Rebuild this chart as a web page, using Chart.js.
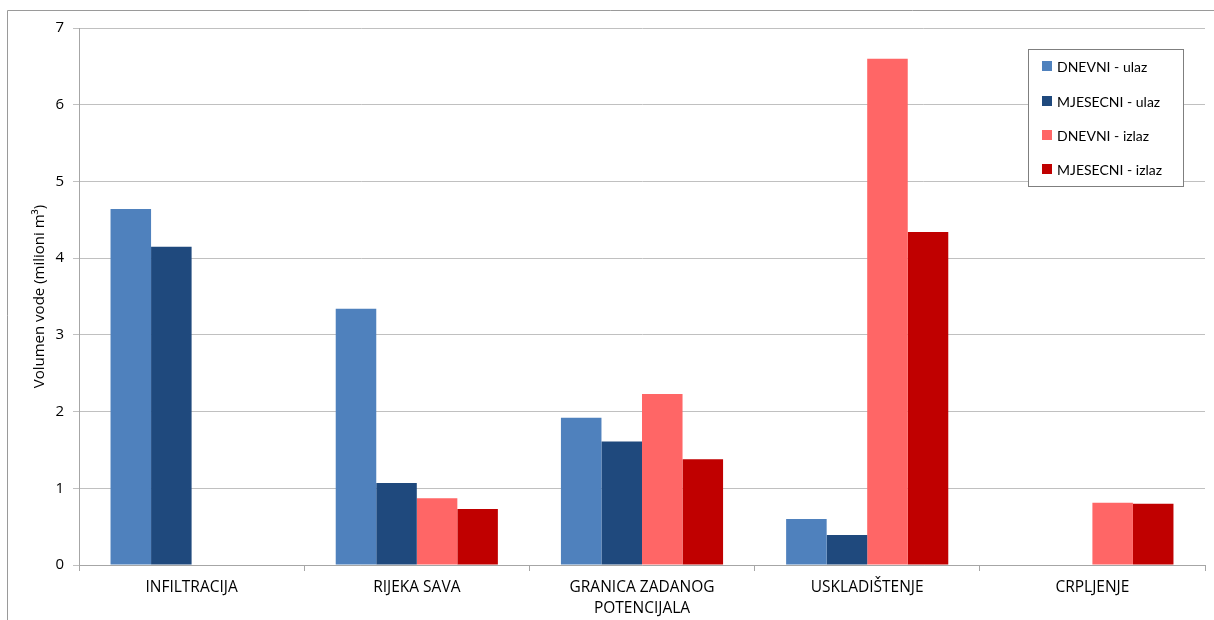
<!DOCTYPE html>
<html>
<head>
<meta charset="utf-8">
<script src="https://cdn.jsdelivr.net/npm/chart.js@4/dist/chart.umd.min.js"></script>
<style>
html,body{margin:0;padding:0;background:#fff;}
#wrap{position:relative;width:1214px;height:620px;}
</style>
</head>
<body>
<div id="wrap"><canvas id="c" width="1214" height="620"></canvas></div>
<script>
const categories = ['INFILTRACIJA', 'RIJEKA SAVA', ['GRANICA ZADANOG', 'POTENCIJALA'], 'USKLADIŠTENJE', 'CRPLJENJE'];
const dnevniUlaz    = [4.64, 3.34, 1.92, 0.60, 0];
const mjesecniUlaz  = [4.15, 1.07, 1.61, 0.39, 0];
const dnevniIzlaz   = [0, 0.87, 2.23, 6.60, 0.81];
const mjesecniIzlaz = [0, 0.73, 1.38, 4.34, 0.80];
const seriesLabels  = ['DNEVNI - ulaz', 'MJESECNI - ulaz', 'DNEVNI - izlaz', 'MJESECNI - izlaz'];
const seriesColors  = ['#4F81BD', '#1F497D', '#FF6666', '#C00000'];
const yTitle = 'Volumen vode (milioni m³)';

const FONT = '"Open Sans", Lato, sans-serif';
const LEGEND_FONT = 'Lato, "Open Sans", sans-serif';

const framePlugin = {
  id: 'frame',
  beforeDraw(chart) {
    const ctx = chart.ctx;
    ctx.save();
    ctx.fillStyle = '#fff';
    ctx.fillRect(0, 0, chart.width, chart.height);
    ctx.strokeStyle = '#9a9a9a';
    ctx.lineWidth = 1;
    ctx.beginPath();
    ctx.moveTo(7.5, 620);
    ctx.lineTo(7.5, 10.5);
    ctx.lineTo(1214, 10.5);
    ctx.stroke();
    ctx.restore();
  }
};

const legendPlugin = {
  id: 'boxLegend',
  afterDraw(chart) {
    const ctx = chart.ctx;
    const x0 = 1028, y0 = 49, w = 155, h = 137;
    ctx.save();
    ctx.fillStyle = '#fff';
    ctx.fillRect(x0, y0, w, h);
    ctx.strokeStyle = '#7f7f7f';
    ctx.lineWidth = 1;
    ctx.strokeRect(x0 + 0.5, y0 + 0.5, w, h);
    const ys = [66, 101, 135, 169];
    ctx.font = '14px ' + LEGEND_FONT;
    ctx.textBaseline = 'middle';
    ctx.textAlign = 'left';
    chart.data.datasets.forEach((ds, i) => {
      ctx.fillStyle = ds.backgroundColor;
      ctx.fillRect(1042, ys[i] - 5, 10, 10);
      ctx.fillStyle = '#000';
      ctx.fillText(ds.label, 1057, ys[i] + 1);
    });
    ctx.restore();
  }
};

const datasetsData = [dnevniUlaz, mjesecniUlaz, dnevniIzlaz, mjesecniIzlaz];

new Chart(document.getElementById('c'), {
  type: 'bar',
  data: {
    labels: categories,
    datasets: datasetsData.map((d, i) => ({
      label: seriesLabels[i],
      data: d,
      backgroundColor: seriesColors[i],
      borderColor: seriesColors[i],
      borderWidth: 0,
      categoryPercentage: 0.72,
      barPercentage: 1.0
    }))
  },
  options: {
    responsive: false,
    animation: false,
    devicePixelRatio: 1,
    layout: { padding: { left: 31, top: 28, right: 9, bottom: 0 } },
    plugins: {
      legend: { display: false },
      tooltip: { enabled: false }
    },
    scales: {
      x: {
        afterFit(scale) { scale.height = 55; },
        grid: {
          display: true,
          offset: true,
          drawOnChartArea: false,
          drawTicks: true,
          tickLength: 6,
          color: '#A6A6A6'
        },
        border: { display: true, color: '#A6A6A6' },
        ticks: {
          color: '#000',
          font: { family: FONT, size: 15.5, lineHeight: 1.3 },
          padding: 7,
          maxRotation: 0,
          autoSkip: false
        }
      },
      y: {
        min: 0,
        max: 7,
        afterFit(scale) { scale.width = 48; },
        grid: {
          color: '#C0C0C0',
          drawTicks: true,
          tickLength: 6
        },
        border: { display: true, color: '#A6A6A6' },
        ticks: {
          stepSize: 1,
          color: '#000',
          font: { family: FONT, size: 15 },
          padding: 9
        },
        title: {
          display: true,
          text: yTitle,
          color: '#000',
          font: { family: FONT, size: 15, lineHeight: 1.2 },
          padding: { top: 0, bottom: 0 }
        }
      }
    }
  },
  plugins: [framePlugin, legendPlugin]
});
</script>
</body>
</html>
